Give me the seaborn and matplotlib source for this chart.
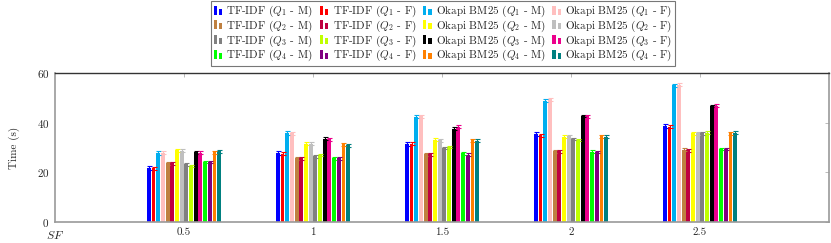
import numpy as np
import pandas as pd
import matplotlib
matplotlib.use("Agg")
import matplotlib.pyplot as plt
from matplotlib.patches import Rectangle
from matplotlib.legend_handler import HandlerBase
import seaborn as sns

# ── Data ──────────────────────────────────────
SF = [0.5, 1, 1.5, 2, 2.5]

tf_q1_m = [21.6, 27.6, 31.5, 35.3, 38.6]
tf_q1_f = [21.6, 27.5, 31.5, 35.0, 38.3]
bm_q1_m = [27.8, 35.9, 42.4, 48.9, 55.0]
bm_q1_f = [27.9, 35.7, 42.5, 49.4, 55.3]
tf_q2_m = [23.7, 25.6, 27.2, 28.4, 29.1]
tf_q2_f = [23.7, 25.6, 27.2, 28.4, 28.9]
bm_q2_m = [28.9, 31.5, 33.2, 34.4, 35.7]
bm_q2_f = [28.7, 31.5, 33.0, 34.6, 35.7]
tf_q3_m = [23.2, 26.4, 29.8, 33.4, 35.7]
tf_q3_f = [22.6, 27.0, 30.1, 33.0, 36.0]
bm_q3_m = [28.0, 33.6, 37.6, 42.6, 46.8]
bm_q3_f = [27.9, 33.4, 38.4, 42.6, 46.9]
tf_q4_m = [24.1, 25.6, 27.6, 28.3, 29.5]
tf_q4_f = [24.1, 25.6, 27.1, 28.2, 29.3]
bm_q4_m = [28.0, 31.3, 32.9, 34.5, 35.7]
bm_q4_f = [28.4, 30.9, 32.8, 34.4, 36.0]

# error bar half-widths (same for all SF of a series)
ERR = [0.8, 0.6, 0.7, 0.7, 0.6, 0.6, 0.6, 0.6, 0.5, 0.5, 0.5, 0.6, 0.5, 0.5, 0.5, 0.5]

LABELS = [
    r"TF-IDF ($Q_1$ - M)", r"TF-IDF ($Q_1$ - F)", r"Okapi BM25 ($Q_1$ - M)", r"Okapi BM25 ($Q_1$ - F)",
    r"TF-IDF ($Q_2$ - M)", r"TF-IDF ($Q_2$ - F)", r"Okapi BM25 ($Q_2$ - M)", r"Okapi BM25 ($Q_2$ - F)",
    r"TF-IDF ($Q_3$ - M)", r"TF-IDF ($Q_3$ - F)", r"Okapi BM25 ($Q_3$ - M)", r"Okapi BM25 ($Q_3$ - F)",
    r"TF-IDF ($Q_4$ - M)", r"TF-IDF ($Q_4$ - F)", r"Okapi BM25 ($Q_4$ - M)", r"Okapi BM25 ($Q_4$ - F)",
]
SERIES = [tf_q1_m, tf_q1_f, bm_q1_m, bm_q1_f, tf_q2_m, tf_q2_f, bm_q2_m, bm_q2_f,
          tf_q3_m, tf_q3_f, bm_q3_m, bm_q3_f, tf_q4_m, tf_q4_f, bm_q4_m, bm_q4_f]
COLORS = ["#0000FF", "#FF0000", "#00AEEF", "#FFBFBF",
          "#BF8040", "#BF0040", "#FFFF00", "#BFBFBF",
          "#808080", "#BFFF00", "#000000", "#EC008C",
          "#00FF00", "#800080", "#FF8000", "#008080"]

rows = []
for lab, vals in zip(LABELS, SERIES):
    for x, v in zip(SF, vals):
        rows.append({"SF": x, "time": v, "series": lab})
df = pd.DataFrame(rows)


# pgfplots-style legend image: two small bars
class TwoBars(HandlerBase):
    def create_artists(self, legend, orig, xd, yd, w, h, fs, trans):
        c = orig.get_facecolor()
        bw = w * 0.32
        r1 = Rectangle((xd, yd - h * 0.1), bw, h * 1.1, facecolor=c, edgecolor="none", transform=trans)
        r2 = Rectangle((xd + w * 0.55, yd - h * 0.1), bw, h * 0.75, facecolor=c, edgecolor="none", transform=trans)
        return [r1, r2]


# ── Style ─────────────────────────────────────
sns.set_style("white")
plt.rcParams["font.family"] = ["cmr10", "DejaVu Serif"]
plt.rcParams["mathtext.fontset"] = "cm"
plt.rcParams["axes.formatter.use_mathtext"] = True
plt.rcParams["font.size"] = 8

fig = plt.figure(figsize=(8.31, 2.43), dpi=100)
ax = fig.add_axes([55 / 831, 1 - 222 / 243, 774 / 831, 149 / 243])

sns.barplot(data=df, x="SF", y="time", hue="series", hue_order=LABELS,
            palette=COLORS, native_scale=True, errorbar=None,
            width=0.58, gap=0.2, ax=ax, legend=False, linewidth=0, saturation=1)

# error bars on top of each bar
n_x = len(SF)
for i, lab in enumerate(LABELS):
    for j in range(n_x):
        p = ax.patches[i * n_x + j]
        cx = p.get_x() + p.get_width() / 2
        ax.errorbar(cx, p.get_height(), yerr=ERR[i], color=COLORS[i],
                    capsize=1.8, elinewidth=0.8, capthick=0.8, fmt="none")

ax.set_xlim(0, 3)
ax.set_ylim(0, 60)
ax.set_xticks(SF)
ax.set_xticklabels(["0.5", "1", "1.5", "2", "2.5"])
ax.set_yticks([0, 20, 40, 60])
ax.set_xlabel("")
ax.set_ylabel("Time (s)", labelpad=12)
ax.tick_params(axis="both", direction="in", length=3, color="#b0b0b0", width=0.6,
               labelsize=8, pad=4, top=True, right=True)
for side in ["left", "bottom", "right"]:
    ax.spines[side].set_color("#9a9a9a")
    ax.spines[side].set_linewidth(1.2)
ax.spines["top"].set_color("#333333")
ax.spines["top"].set_linewidth(1.0)
ax.text(-0.012, -0.09, r"$SF$", transform=ax.transAxes, ha="left", va="center", fontsize=8.5)

# legend filled row by row (matplotlib fills column by column)
handles = [Rectangle((0, 0), 1, 1, facecolor=c) for c in COLORS]
order = [r * 4 + c for c in range(4) for r in range(4)]
leg = fig.legend([handles[k] for k in order], [LABELS[k] for k in order], ncol=4,
                 loc="upper center", bbox_to_anchor=(443 / 831, 1.0), fontsize=8,
                 frameon=True, fancybox=False, edgecolor="#555555",
                 handler_map={Rectangle: TwoBars()},
                 handlelength=0.9, handleheight=0.75, handletextpad=0.25,
                 columnspacing=0.6, labelspacing=-0.05, borderpad=0.25, borderaxespad=0.1)
leg.get_frame().set_linewidth(0.8)

plt.savefig("out.png", dpi=100, facecolor="white")
